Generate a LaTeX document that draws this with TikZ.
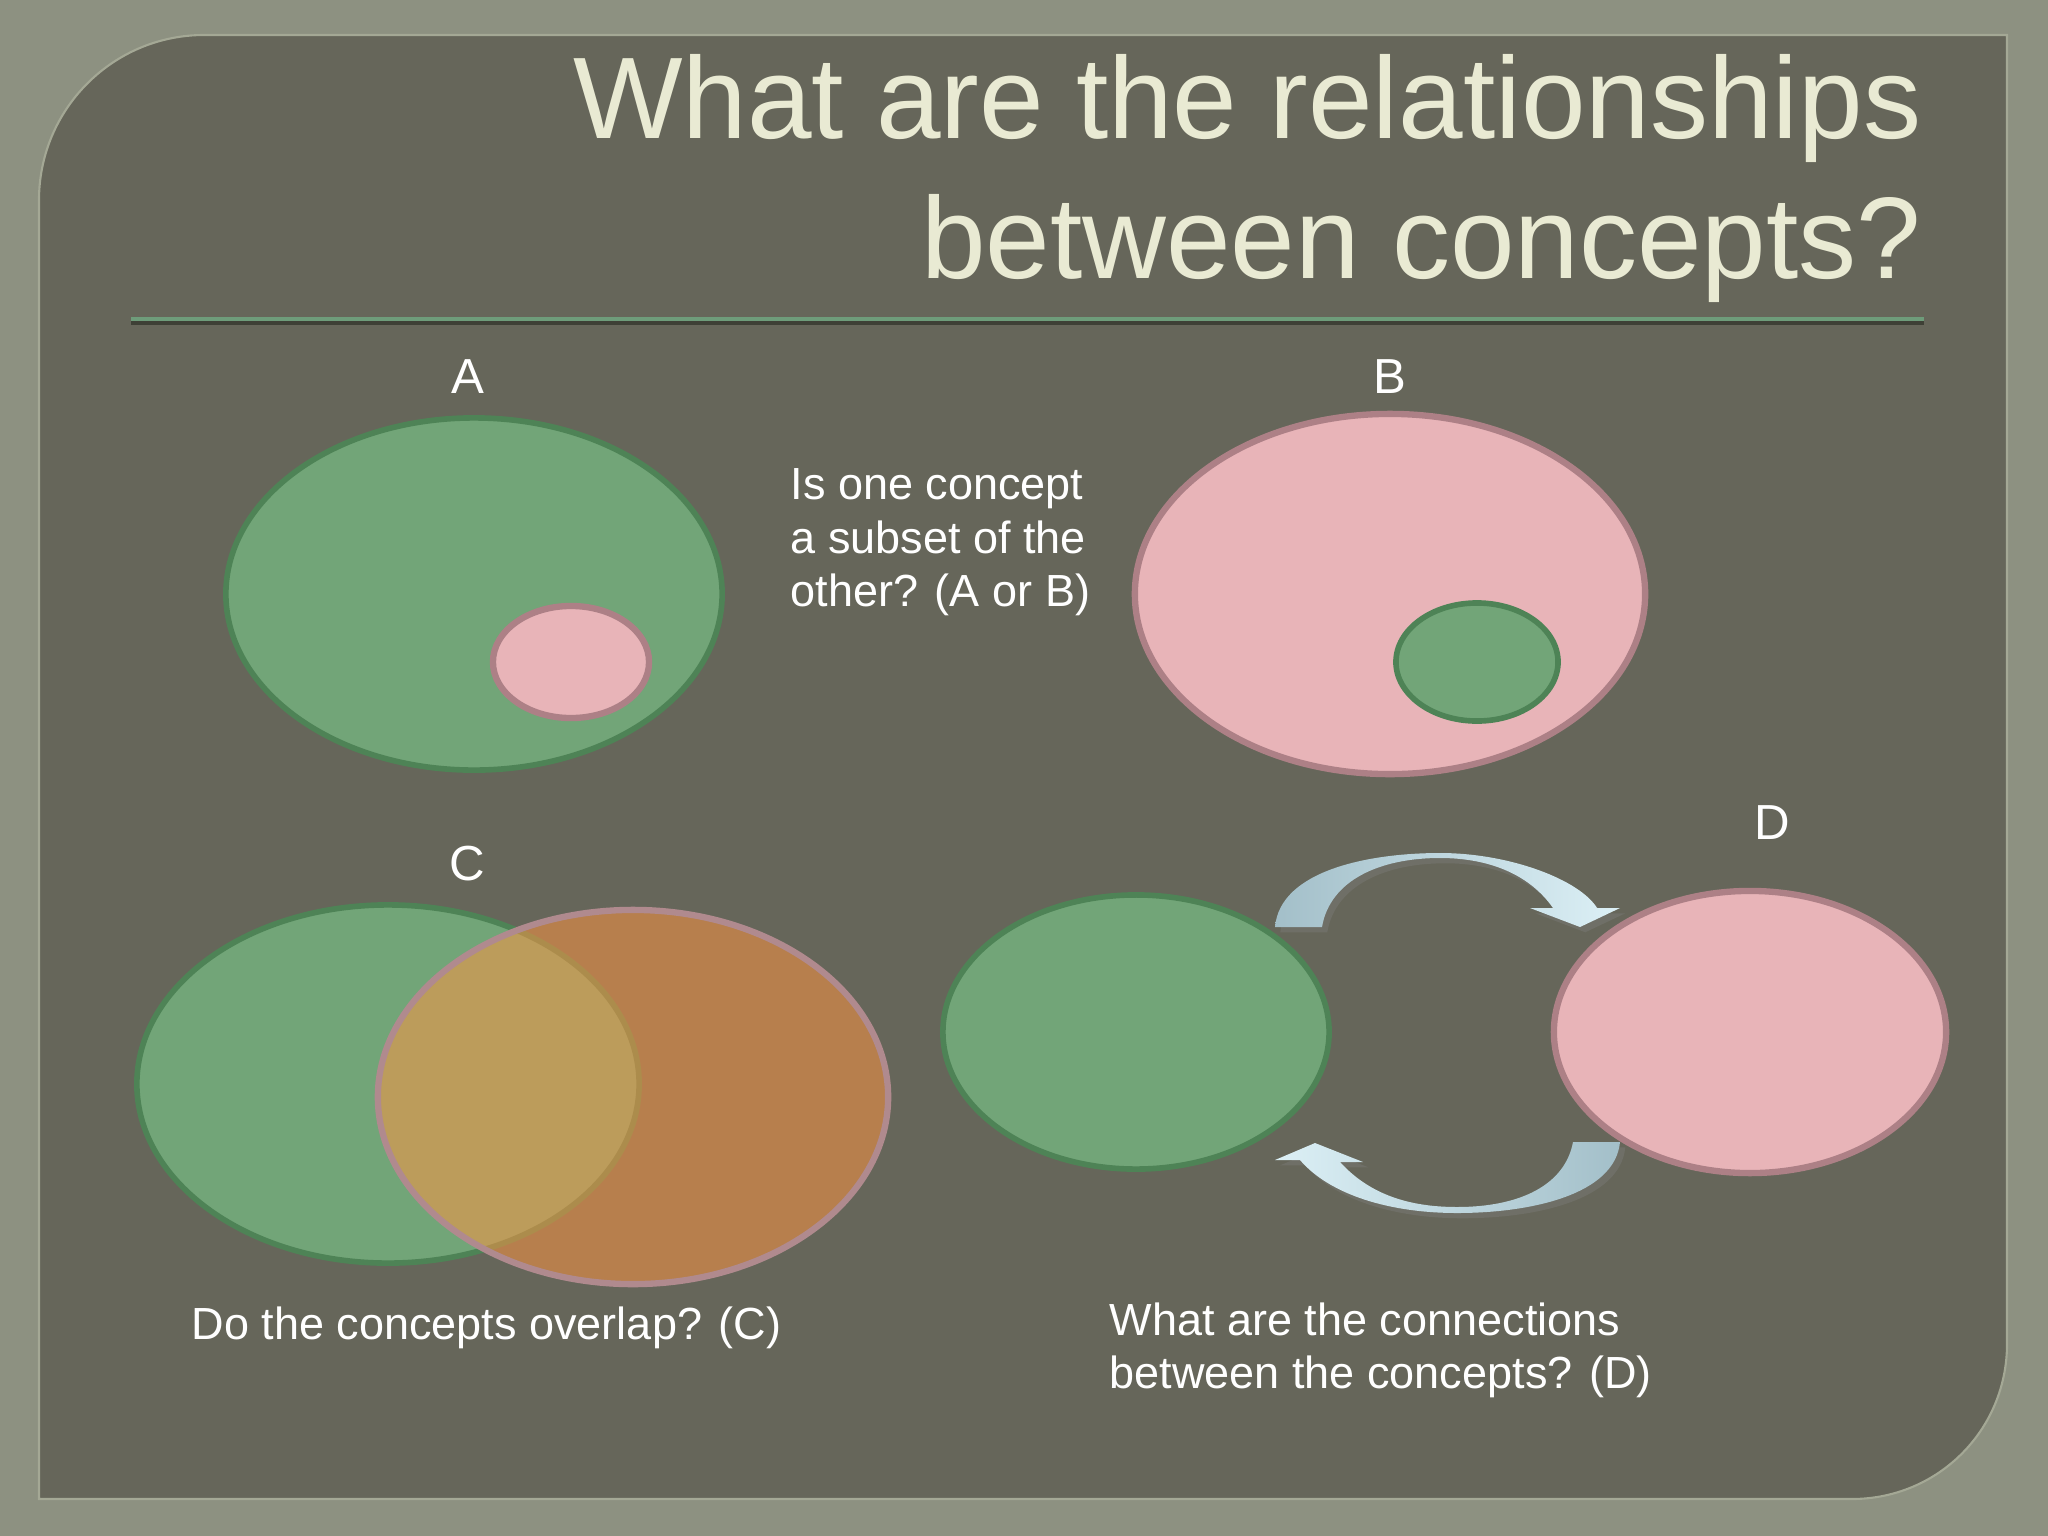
\documentclass[tikz,border=0pt]{standalone}
\usepackage{fontspec}
\setmainfont{Liberation Sans}
\usetikzlibrary{shapes.geometric,shadows}

\definecolor{slide}{HTML}{8D9181}
\definecolor{panel}{HTML}{66665A}
\definecolor{panelrim}{HTML}{A4A895}
\definecolor{leaf}{HTML}{72A578}
\definecolor{leafedge}{HTML}{4E8356}
\definecolor{rose}{HTML}{E8B4B8}
\definecolor{roseedge}{HTML}{AD8086}
\definecolor{amber}{HTML}{FA9544}
\definecolor{amberedge}{HTML}{B08A8E}
\definecolor{ice}{HTML}{DCF0F6}
\definecolor{steel}{HTML}{A3BFC9}
\definecolor{headline}{HTML}{E9EAD3}
\definecolor{rulegreen}{HTML}{6E9C7A}
\definecolor{ruleshade}{HTML}{3E4036}

\tikzset{
  greenset/.style={ellipse, draw=leafedge, fill=leaf, line width=1.6pt, inner sep=0pt},
  pinkset/.style={ellipse, draw=roseedge, fill=rose, line width=1.8pt, inner sep=0pt},
  orangeset/.style={ellipse, draw=amberedge, fill=amber, fill opacity=0.55, line width=1.8pt, inner sep=0pt},
  letter/.style={text=white, font=\fontsize{14}{17}\selectfont, inner sep=0pt},
  question/.style={text=white, font=\fontsize{12.8}{15.2}\selectfont, align=left, inner sep=0pt},
  swaparrow/.style={draw=none, drop shadow={shadow xshift=1.5pt, shadow yshift=-1.5pt, opacity=0.35}}
}

\begin{document}
\begin{tikzpicture}[x=0.01cm, y=-0.01cm]
  \useasboundingbox (0,0) rectangle (2048,1536);
  \fill[slide] (0,0) rectangle (2048,1536);
  \filldraw[fill=panel, draw=panelrim, line width=0.6pt]
    (39,1499) -- (39,200) .. controls (39,109) and (113,35) .. (204,35)
    -- (2007,35) -- (2007,1344) .. controls (2007,1430) and (1938,1499) .. (1852,1499) -- cycle;

  \node[text=headline, font=\fontsize{33}{39.8}\selectfont, align=right, inner sep=0pt, anchor=north east]
    (title) at (1922,54) {What are the relationships\\between concepts?};
  \draw[line width=1.2pt, ruleshade] (131,323) -- (1924,323);
  \draw[line width=1.1pt, rulegreen] (131,319) -- (1924,319);

  \node[letter, anchor=base] (labA) at (468,393) {A};
  \node[letter, anchor=base] (labB) at (1390,393) {B};
  \node[letter, anchor=base] (labC) at (467,880) {C};
  \node[letter, anchor=base] (labD) at (1772,839) {D};

  \node[greenset, minimum width=4.96cm, minimum height=3.52cm] (abig) at (474,594) {};
  \node[pinkset, minimum width=1.56cm, minimum height=1.12cm] (asmall) at (571,662) {};
  \node[pinkset, minimum width=5.10cm, minimum height=3.60cm] (bbig) at (1390,594) {};
  \node[greenset, minimum width=1.62cm, minimum height=1.18cm] (bsmall) at (1477,662) {};
  \node[greenset, minimum width=5.02cm, minimum height=3.58cm] (cleft) at (388,1084) {};
  \node[orangeset, minimum width=5.10cm, minimum height=3.74cm] (cright) at (633,1097) {};
  \node[greenset, minimum width=3.86cm, minimum height=2.74cm] (dleft) at (1136,1032) {};
  \node[pinkset, minimum width=3.92cm, minimum height=2.82cm] (dright) at (1750,1032) {};

  \node[question, anchor=north west] (subsetq) at (790,468) {Is one concept\\a subset of the\\other? (A or B)};
  \node[question, anchor=north west] (overlapq) at (191,1306) {Do the concepts overlap? (C)};
  \node[question, anchor=north west] (linkq) at (1109,1302) {What are the connections\\between the concepts? (D)};

  \path[swaparrow, left color=steel, right color=ice]
    (1275,927) .. controls (1280,870) and (1370,853) .. (1440,853)
    .. controls (1510,853) and (1580,880) .. (1597,908)
    -- (1620,908) -- (1580,927) -- (1530,908) -- (1553,908)
    .. controls (1530,875) and (1490,858) .. (1440,858)
    .. controls (1380,858) and (1330,880) .. (1322,927) -- cycle;
  \path[swaparrow, left color=ice, right color=steel]
    (1620,1142) .. controls (1615,1195) and (1530,1213) .. (1457,1213)
    .. controls (1390,1213) and (1330,1195) .. (1300,1160)
    -- (1275,1160) -- (1315,1143) -- (1363,1162) -- (1340,1162)
    .. controls (1370,1195) and (1410,1207) .. (1457,1207)
    .. controls (1520,1207) and (1565,1185) .. (1573,1142) -- cycle;
\end{tikzpicture}
\end{document}
